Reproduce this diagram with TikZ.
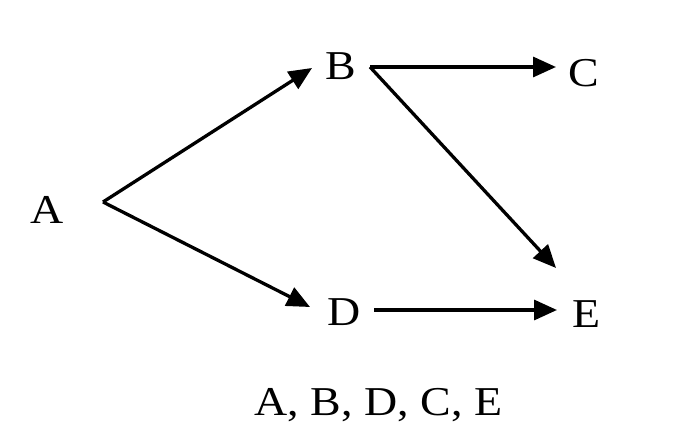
\documentclass[tikz,border=0pt]{standalone}
\usepackage{fontspec}
\setmainfont{Liberation Serif}
\usetikzlibrary{arrows.meta}
\newcommand{\wide}[1]{\scalebox{1.12}[1]{#1}}
\begin{document}
\begin{tikzpicture}[x=1pt,y=1pt,
  lbl/.style={inner sep=0pt,anchor=base,font=\fontsize{41}{48}\selectfont},
  conn/.style={line width=3.3pt,-{Triangle[length=23pt,width=20pt]}}]
\useasboundingbox (0,0) rectangle (700,-446);
\node[lbl] (A) at (47.5,-223) {\wide{A}};
\node[lbl] (B) at (341,-80) {\wide{B}};
\node[lbl] (C) at (584,-87) {\wide{C}};
\node[lbl] (D) at (344.5,-325) {\wide{D}};
\node[lbl] (E) at (587,-327) {\wide{E}};
\node[lbl] (cap) at (378.5,-415) {\wide{A, B, D, C, E}};
\draw[conn] ([shift={(55.5,21)}]A.base) -- ([shift={(-29,12)}]B.base);
\draw[conn] ([shift={(55.5,21)}]A.base) -- ([shift={(-34.5,18)}]D.base);
\draw[conn] ([shift={(29,13)}]B.base) -- ([shift={(-28,20)}]C.base);
\draw[conn] ([shift={(29,13)}]B.base) -- ([shift={(-31,59)}]E.base);
\draw[conn] ([shift={(29.5,15)}]D.base) -- ([shift={(-30,17)}]E.base);
\end{tikzpicture}
\end{document}
